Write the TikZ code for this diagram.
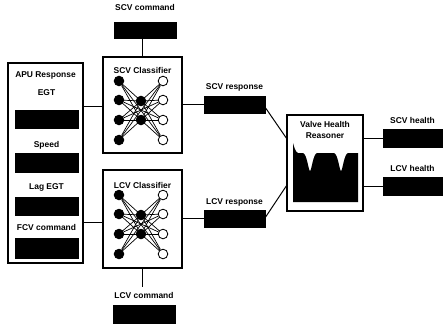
\documentclass[tikz,border=0pt]{standalone}
\usepackage{fontspec}
\setmainfont{Liberation Sans}
\tikzset{
  txt/.style={font=\bfseries\fontsize{6}{7}\selectfont, inner sep=0pt},
  bar/.style={fill=black, draw=black, inner sep=0pt},
  blockbox/.style={draw=black, line width=1pt, inner sep=0pt},
  wire/.style={draw=black, line width=0.7pt},
  neuron/.style={circle, draw=black, line width=0.6pt, inner sep=0pt, minimum size=0.24cm},
  link/.style={draw=black, line width=0.5pt}
}
\begin{document}
\begin{tikzpicture}[x=0.025cm,y=-0.025cm]
\useasboundingbox (0,0) rectangle (445,324);

% APU response block
\node[blockbox, minimum width=1.875cm, minimum height=5cm] (apu) at (45.5,163) {};
\node[txt] (apulbl) at (45.5,75) {APU Response};
\node[txt] (egtlbl) at (46.5,93) {EGT};
\node[bar, minimum width=1.575cm, minimum height=0.45cm] (egt) at (46.5,119) {};
\node[txt] (spdlbl) at (46.5,145) {Speed};
\node[bar, minimum width=1.575cm, minimum height=0.47cm] (spd) at (46.5,162.5) {};
\node[txt] (lagegtlbl) at (46.5,187) {Lag EGT};
\node[bar, minimum width=1.575cm, minimum height=0.45cm] (lagegt) at (46.5,206) {};
\node[txt] (fcvlbl) at (46.5,227) {FCV command};
\node[bar, minimum width=1.575cm, minimum height=0.5cm] (fcv) at (46.5,248) {};

% classifiers
\node[blockbox, minimum width=1.975cm, minimum height=2.4cm] (scvc) at (142.5,105) {};
\node[txt] (scvclbl) at (142.5,70) {SCV Classifier};
\node[blockbox, minimum width=1.975cm, minimum height=2.45cm] (lcvc) at (142.5,219) {};
\node[txt] (lcvclbl) at (142.5,185) {LCV Classifier};

% neural nets
\foreach \net/\dy in {s/0, l/114} {
  \foreach \i/\y in {1/81, 2/100, 3/120, 4/140} {
    \node[neuron, fill=black] (\net-in-\i) at (119,\y+\dy) {};
    \node[neuron, fill=white] (\net-out-\i) at (163,\y+\dy) {};
  }
  \node[neuron, fill=black] (\net-hid-1) at (141,101+\dy) {};
  \node[neuron, fill=black] (\net-hid-2) at (141,120+\dy) {};
  \foreach \i in {1,...,4} {
    \foreach \j in {1,2} {
      \draw[link] (\net-in-\i) -- (\net-hid-\j);
      \draw[link] (\net-hid-\j) -- (\net-out-\i);
    }
  }
  \draw[link] (\net-in-1) -- (\net-out-4);
  \draw[link] (\net-in-4) -- (\net-out-1);
  \draw[link] (\net-in-2) -- (\net-out-3);
  \draw[link] (\net-in-3) -- (\net-out-2);
}

% commands
\node[txt] (scvcmdlbl) at (145,7) {SCV command};
\node[bar, minimum width=1.55cm, minimum height=0.4cm] (scvcmd) at (145,30) {};
\node[txt] (lcvcmdlbl) at (144,295) {LCV command};
\node[bar, minimum width=1.55cm, minimum height=0.45cm] (lcvcmd) at (144,314) {};
\coordinate (lcvcmdend) at (142.5,287);

% responses
\node[txt] (scvresplbl) at (234.5,87) {SCV response};
\node[bar, minimum width=1.525cm, minimum height=0.43cm] (scvresp) at (234.5,104.5) {};
\node[txt] (lcvresplbl) at (234.5,202) {LCV response};
\node[bar, minimum width=1.525cm, minimum height=0.43cm] (lcvresp) at (234.5,218.5) {};

% reasoner
\node[blockbox, minimum width=1.9cm, minimum height=2.4cm] (vhr) at (325,163) {};
\node[txt, align=center] (vhrlbl) at (325,130) {Valve Health\\[1pt]Reasoner};
\fill[black] (293,143) .. controls (294,146) and (295,152) .. (298,153)
  -- (303,153) .. controls (307,154) and (308.5,171) .. (310,171)
  .. controls (311.5,171) and (313,154) .. (317,153)
  -- (334,153) .. controls (338,154) and (339.5,171) .. (341,171)
  .. controls (342.5,171) and (344,154) .. (348,153)
  -- (358,153) -- (358,202) -- (293,202) -- cycle;

% health outputs
\node[txt] (scvhlbl) at (412.5,120) {SCV health};
\node[bar, minimum width=1.475cm, minimum height=0.45cm] (scvh) at (412.5,138) {};
\node[txt] (lcvhlbl) at (412.5,168) {LCV health};
\node[bar, minimum width=1.475cm, minimum height=0.45cm] (lcvh) at (412.5,186) {};

% connectors
\draw[wire] (apu.east |- 0,106) -- (scvc.west |- 0,106);
\draw[wire] (apu.east |- 0,222) -- (lcvc.west |- 0,222);
\draw[wire] (scvcmd.south -| scvc.north) -- (scvc.north);
\draw[wire] (lcvc.south) -- (lcvcmdend);
\draw[wire] (scvc.east |- scvresp.west) -- (scvresp.west);
\draw[wire] (lcvc.east |- lcvresp.west) -- (lcvresp.west);
\draw[wire] (scvresp.east) ++(0,3) -- (vhr.west |- 0,138);
\draw[wire] (lcvresp.east) ++(0,-1) -- (vhr.west |- 0,186);
\draw[wire] (vhr.east |- scvh.west) -- (scvh.west);
\draw[wire] (vhr.east |- lcvh.west) -- (lcvh.west);
\end{tikzpicture}
\end{document}
